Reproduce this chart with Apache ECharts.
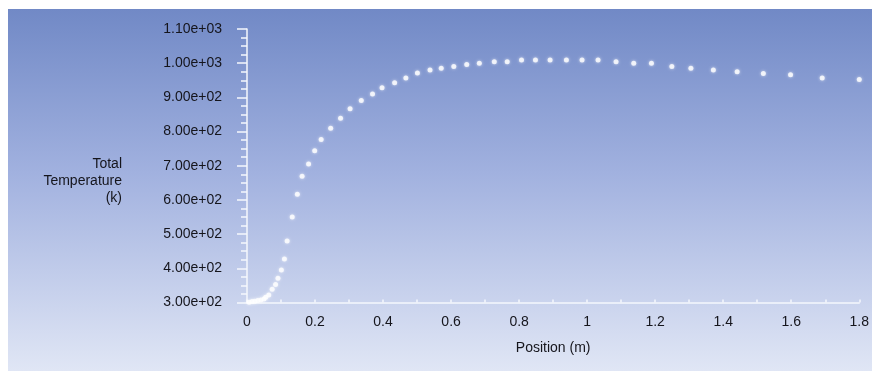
<!DOCTYPE html>
<html>
<head>
<meta charset="utf-8">
<script src="https://cdn.jsdelivr.net/npm/echarts@6/dist/echarts.min.js"></script>
<style>
html,body{margin:0;padding:0;background:#fff;}
#c{width:872px;height:373px;}
</style>
</head>
<body>
<div id="c"></div>
<script>
// Position (m)
const positions = [0.006,0.015,0.023,0.032,0.041,0.050,0.055,0.064,0.074,0.084,0.091,0.101,0.110,0.118,0.133,0.148,0.162,0.181,0.199,0.218,0.246,0.275,0.303,0.336,0.369,0.397,0.434,0.467,0.501,0.538,0.571,0.608,0.646,0.683,0.727,0.765,0.807,0.848,0.891,0.939,0.985,1.032,1.085,1.137,1.189,1.249,1.305,1.371,1.441,1.518,1.598,1.691,1.800];
// Total Temperature (k)
const temperatures = [301,303,304,306,307,310,315,322,339,353,371,395,427,480,550,617,669,705,744,777,810,839,867,891,910,928,943,957,971,980,985,990,996,1000,1004,1004,1009,1009,1009,1009,1009,1009,1004,1000,1000,990,985,980,975,970,966,957,952];
const xTickLabels = ['0','0.2','0.4','0.6','0.8','1','1.2','1.4','1.6','1.8'];
const yTickLabels = ['3.00e+02','4.00e+02','5.00e+02','6.00e+02','7.00e+02','8.00e+02','9.00e+02','1.00e+03','1.10e+03'];
const xAxisName = 'Position (m)';
const yAxisName = 'Total\nTemperature\n(k)';

const chart = echarts.init(document.getElementById('c'), null, {renderer:'canvas'});
const font = '"Liberation Sans", Arial, sans-serif';
const textColor = '#15151c';
const axisWhite = '#f5f7fd';

chart.setOption({
  animation: false,
  backgroundColor: '#ffffff',
  graphic: [{
    type: 'rect',
    z: -10,
    silent: true,
    shape: {x: 8, y: 9, width: 864, height: 362},
    style: {
      fill: {
        type: 'linear', x: 0, y: 0, x2: 0, y2: 1,
        colorStops: [
          {offset: 0, color: '#7189c6'},
          {offset: 0.45, color: '#a1b1df'},
          {offset: 1, color: '#e0e6f5'}
        ]
      }
    }
  }, {
    type: 'text',
    silent: true,
    x: 122,
    y: 181,
    style: {
      text: yAxisName,
      fill: textColor,
      font: '14px ' + font,
      align: 'right',
      verticalAlign: 'middle',
      lineHeight: 17
    }
  }],
  grid: {left: 247, right: 8, top: 29, bottom: 70.5, containLabel: false},
  xAxis: {
    type: 'value',
    min: 0, max: 1.8, interval: 0.2,
    name: xAxisName,
    nameLocation: 'middle',
    nameGap: 39,
    nameTextStyle: {color: textColor, fontSize: 14, fontFamily: font},
    axisLine: {show: true, lineStyle: {color: axisWhite, width: 1.5}},
    axisTick: {show: true, inside: true, length: 3, lineStyle: {color: axisWhite, width: 1.5}},
    minorTick: {show: true, splitNumber: 2, length: 3, lineStyle: {color: axisWhite, width: 1.5}},
    splitLine: {show: false},
    axisLabel: {
      color: textColor, fontSize: 14, fontFamily: font, margin: 13,
      formatter: function (v) {
        const i = Math.round(v / 0.2);
        return xTickLabels[i] !== undefined ? xTickLabels[i] : '';
      }
    }
  },
  yAxis: {
    type: 'value',
    min: 300, max: 1100, interval: 100,
    axisLine: {show: true, lineStyle: {color: axisWhite, width: 1.5}},
    axisTick: {show: true, inside: false, length: 10, lineStyle: {color: axisWhite, width: 1.5}},
    minorTick: {show: true, splitNumber: 4, length: 6, lineStyle: {color: axisWhite, width: 1.5}},
    splitLine: {show: false},
    axisLabel: {
      color: textColor, fontSize: 14, fontFamily: font, margin: 25,
      formatter: function (v) {
        const i = Math.round((v - 300) / 100);
        return yTickLabels[i] !== undefined ? yTickLabels[i] : '';
      }
    }
  },
  series: [{
    type: 'scatter',
    data: positions.map((p, i) => [p, temperatures[i]]),
    symbol: 'circle',
    symbolSize: 5,
    itemStyle: {color: '#ffffff', shadowColor: 'rgba(255,255,255,0.8)', shadowBlur: 3},
    silent: true
  }]
});
</script>
</body>
</html>
